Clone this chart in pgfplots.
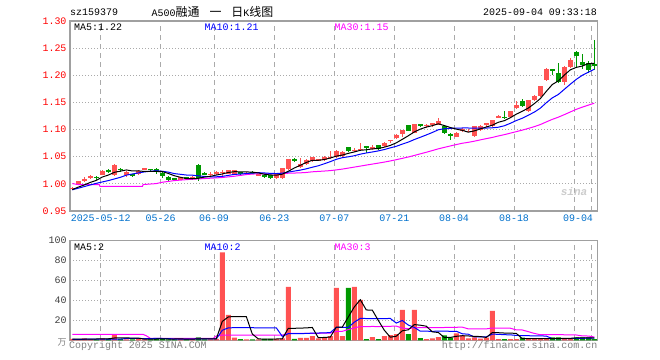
\documentclass[border=0pt]{standalone}
\usepackage{pgfplots}
\pgfplotsset{compat=1.18}
\usepackage{pgfplotstable}
\usepackage{fontspec}
\setmainfont{Liberation Mono}
\newfontfamily\cjk{Noto Sans CJK SC}
\definecolor{kred}{RGB}{255,82,82}
\definecolor{kgreen}{RGB}{0,153,0}
\definecolor{framegray}{RGB}{160,160,160}
\definecolor{gridgray}{RGB}{170,170,170}
\definecolor{datecol}{RGB}{0,112,204}
\definecolor{mathirty}{RGB}{255,0,255}
\definecolor{maten}{RGB}{0,0,255}
\definecolor{txtgray}{RGB}{128,128,128}

\pgfplotstableread{
i o h l c v
0 0.990 0.994 0.989 0.993 1.5
1 0.998 1.006 0.997 1.005 1
2 1.006 1.012 1.003 1.009 2
3 1.011 1.016 1.009 1.014 1
5 1.017 1.025 1.016 1.024 2
7 1.017 1.037 1.015 1.034 6
9 1.016 1.024 1.013 1.022 1
11 1.018 1.025 1.017 1.024 1.5
12 1.027 1.030 1.025 1.028 1
18 1.008 1.013 1.007 1.012 1.5
20 1.009 1.014 1.008 1.012 1
23 1.016 1.021 1.015 1.019 1
24 1.019 1.024 1.016 1.021 1.5
25 1.020 1.026 1.014 1.022 88
26 1.019 1.026 1.018 1.025 25.5
27 1.019 1.026 1.018 1.025 2.7
29 1.019 1.022 1.018 1.020 1
31 1.016 1.019 1.015 1.018 1
34 1.011 1.019 1.009 1.018 1.5
35 1.011 1.030 1.009 1.029 2
36 1.028 1.046 1.026 1.045 53.5
38 1.031 1.048 1.029 1.036 2.5
39 1.036 1.046 1.034 1.044 2.5
40 1.042 1.050 1.040 1.049 4.3
41 1.043 1.046 1.042 1.045 2
42 1.044 1.051 1.043 1.050 3
43 1.048 1.060 1.045 1.050 4.3
44 1.049 1.062 1.047 1.061 52.5
45 1.051 1.061 1.048 1.059 4.3
47 1.061 1.066 1.059 1.063 53.3
48 1.063 1.076 1.060 1.065 40.3
50 1.065 1.072 1.063 1.067 3.3
52 1.069 1.077 1.068 1.075 4.3
53 1.079 1.081 1.075 1.081 5.3
54 1.085 1.091 1.083 1.090 6.3
55 1.092 1.100 1.087 1.099 30.3
57 1.094 1.111 1.093 1.110 30.3
59 1.106 1.110 1.103 1.109 1.3
60 1.110 1.112 1.105 1.112 2
61 1.109 1.121 1.108 1.115 3.3
64 1.087 1.095 1.086 1.094 7
65 1.097 1.102 1.096 1.101 5
66 1.096 1.101 1.095 1.098 2
67 1.089 1.107 1.087 1.106 3
68 1.099 1.109 1.098 1.107 1.7
69 1.110 1.112 1.104 1.112 2.7
70 1.106 1.118 1.105 1.117 29.3
71 1.122 1.126 1.121 1.125 1.3
73 1.123 1.135 1.121 1.134 1.3
74 1.140 1.152 1.137 1.145 1.3
76 1.134 1.155 1.132 1.154 1.3
77 1.154 1.164 1.152 1.162 1.3
78 1.161 1.181 1.160 1.180 1.3
79 1.192 1.213 1.190 1.212 1.3
82 1.188 1.217 1.183 1.216 1.3
83 1.216 1.231 1.213 1.228 1.3
}\upK

\pgfplotstableread{
i o h l c v
4 1.013 1.015 1.008 1.011 1
6 1.026 1.027 1.020 1.023 1.5
8 1.028 1.029 1.022 1.025 1.5
10 1.018 1.019 1.012 1.015 1
13 1.027 1.028 1.024 1.026 1
14 1.028 1.030 1.019 1.021 2
15 1.020 1.021 1.011 1.014 1.5
16 1.013 1.014 1.006 1.007 1
17 1.010 1.011 1.005 1.007 1
19 1.012 1.013 1.008 1.009 1
21 1.035 1.036 1.005 1.011 3
22 1.019 1.021 1.016 1.018 1
28 1.021 1.022 1.017 1.018 1.3
30 1.021 1.023 1.018 1.020 1
32 1.017 1.018 1.010 1.013 1.5
33 1.016 1.017 1.009 1.011 1.5
37 1.046 1.047 1.041 1.043 1.5
46 1.067 1.068 1.058 1.061 52.5
49 1.069 1.070 1.057 1.066 1.3
51 1.071 1.072 1.063 1.065 1.3
56 1.108 1.109 1.097 1.098 6.3
58 1.110 1.111 1.104 1.107 2.3
62 1.107 1.109 1.092 1.094 5
63 1.091 1.094 1.081 1.089 2.7
72 1.124 1.135 1.120 1.121 1.3
75 1.152 1.156 1.141 1.144 2.7
80 1.211 1.212 1.200 1.207 3
81 1.205 1.222 1.185 1.187 3
84 1.243 1.244 1.215 1.235 3
85 1.225 1.240 1.212 1.219 3
86 1.222 1.226 1.205 1.210 3
87 1.221 1.265 1.210 1.217 1.3
}\downK

\pgfplotsset{
  kpanel/.style={
    anchor=south west, scale only axis,
    width=527.3bp,
    xmin=-0.383, xmax=87.5,
    axis line style={draw=framegray, line width=1.2bp},
    xtick={4.73,14.73,23.62,33.67,43.67,53.67,63.62,73.62,83.62,86.57},
    major tick length=0pt,
    grid=major,
    x grid style={gridgray, line width=0.8bp, dash pattern=on 5bp off 4bp},
    y grid style={gridgray, line width=0.8bp, dash pattern=on 1bp off 2bp},
    tick label style={font=\fontsize{10}{12}\selectfont},
    /pgf/number format/assume math mode=true,
  },
  wick/.style={only marks, mark=text, text mark={}, forget plot,
    error bars/.cd, y dir=both, y explicit, error mark=none,
    error bar style={#1, line width=1bp}},
  body/.style={only marks, mark=text, text mark={}, forget plot,
    error bars/.cd, y dir=both, y explicit, error mark=none,
    error bar style={#1, line width=5bp}},
}

\begin{document}
\begin{tikzpicture}
\useasboundingbox (0,0) rectangle (660bp,360bp);
\tikzset{every node/.style={font=\fontsize{10}{12}\selectfont}}

% ---------- price panel ----------
\begin{axis}[kpanel,
  at={(70bp,149bp)}, height=190bp,
  ymin=0.95, ymax=1.30,
  ytick={0.95,1.00,1.05,1.10,1.15,1.20,1.25,1.30},
  xticklabels={2025-05-12,05-26,06-09,06-23,07-07,07-21,08-04,08-18,\hspace{8bp}09-04,{}},
  xticklabel style={text=datecol},
  yticklabel style={text=red, /pgf/number format/.cd, fixed, fixed zerofill, precision=2},
]
\addplot[wick=kred] table[x=i, y expr={(\thisrow{h}+\thisrow{l})/2}, y error expr={(\thisrow{h}-\thisrow{l})/2}] {\upK};
\addplot[wick=kgreen] table[x=i, y expr={(\thisrow{h}+\thisrow{l})/2}, y error expr={(\thisrow{h}-\thisrow{l})/2}] {\downK};
\addplot[body=kred] table[x=i, y expr={(\thisrow{o}+\thisrow{c})/2}, y error expr={max(abs(\thisrow{c}-\thisrow{o})/2,0.0009)}] {\upK};
\addplot[body=kgreen] table[x=i, y expr={(\thisrow{o}+\thisrow{c})/2}, y error expr={max(abs(\thisrow{c}-\thisrow{o})/2,0.0009)}] {\downK};

% MA30
\addplot[mathirty, line width=1bp, mark=none] coordinates {
(0,1.0005)(1,0.9987)(4.5,0.9987)(4.6,0.9955)(11.7,0.9955)(11.8,0.9987)(14,1.0005)(15,1.003)(17,1.006)(19.3,1.008)(24.9,1.0116)(27,1.014)(29,1.0171)
(30,1.018)(31,1.0185)(32,1.0186)(33,1.0185)(34,1.0187)(35,1.0189)(36,1.0196)(37,1.0199)(38,1.0203)(39,1.021)(40,1.0222)(41,1.0229)(42,1.0236)(43,1.0244)(44,1.0257)(45,1.0272)(46,1.029)(47,1.0309)(48,1.0327)(49,1.0346)(50,1.0364)(51,1.0382)(52,1.0401)(53,1.0422)(54,1.0445)(55,1.047)(56,1.0495)(57,1.0523)(58,1.0553)(59,1.0582)(60,1.0613)(61,1.0645)(62,1.0672)(63,1.0698)(64,1.0724)(65,1.0748)(66,1.0765)(67,1.0786)(68,1.081)(69,1.0833)(70,1.0855)(71,1.0882)(72,1.0906)(73,1.0934)(74,1.0962)(75,1.099)(76,1.1021)(77,1.1054)(78,1.1092)(79,1.1141)(80,1.1188)(81,1.1228)(82,1.1275)(83,1.1324)(84,1.1373)(85,1.1413)(86,1.145)(87,1.1486)};
% MA10
\addplot[maten, line width=1bp, mark=none] coordinates {
(0,0.989)(1,0.992)(2,0.995)(3,0.998)(4,1.001)(5,1.0035)(6,1.006)(7,1.009)(8,1.012)(9,1.016)(10,1.0182)(11,1.0201)(12,1.022)(13,1.0232)(14,1.0242)(15,1.0232)(16,1.0216)(17,1.0189)(18,1.0176)(19,1.0163)(20,1.016)(21,1.0147)(22,1.0137)(23,1.013)(24,1.013)(25,1.0138)(26,1.0156)(27,1.0174)(28,1.018)(29,1.0191)(30,1.0199)(31,1.0206)(32,1.0201)(33,1.0193)(34,1.019)(35,1.0197)(36,1.0217)(37,1.0235)(38,1.0253)(39,1.0277)(40,1.0306)(41,1.0333)(42,1.037)(43,1.0409)(44,1.0452)(45,1.0482)(46,1.0498)(47,1.0518)(48,1.0547)(49,1.0569)(50,1.0587)(51,1.0607)(52,1.0632)(53,1.0663)(54,1.0692)(55,1.0732)(56,1.0769)(57,1.0816)(58,1.0858)(59,1.0901)(60,1.0946)(61,1.0996)(62,1.1015)(63,1.1023)(64,1.1027)(65,1.1029)(66,1.1029)(67,1.1025)(68,1.1025)(69,1.1028)(70,1.1033)(71,1.1043)(72,1.107)(73,1.1115)(74,1.1166)(75,1.1209)(76,1.1265)(77,1.1321)(78,1.1394)(79,1.1494)(80,1.1584)(81,1.1646)(82,1.1741)(83,1.1835)(84,1.1925)(85,1.2)(86,1.2056)(87,1.2111)};
% MA5
\addplot[black, line width=1bp, mark=none] coordinates {
(0,0.9895)(1,0.994)(2,0.998)(3,1.0027)(4,1.0064)(5,1.0126)(6,1.0162)(7,1.0212)(8,1.0234)(9,1.0256)(10,1.0238)(11,1.024)(12,1.0228)(13,1.023)(14,1.0228)(15,1.0226)(16,1.0192)(17,1.015)(18,1.0122)(19,1.0098)(20,1.0094)(21,1.0102)(22,1.0124)(23,1.0138)(24,1.0162)(25,1.0182)(26,1.021)(27,1.0224)(28,1.0222)(29,1.022)(30,1.0216)(31,1.0202)(32,1.0178)(33,1.0164)(34,1.016)(35,1.0178)(36,1.0232)(37,1.0292)(38,1.0342)(39,1.0394)(40,1.0434)(41,1.0434)(42,1.0448)(43,1.0476)(44,1.051)(45,1.053)(46,1.0562)(47,1.0588)(48,1.0618)(49,1.0628)(50,1.0644)(51,1.0652)(52,1.0676)(53,1.0708)(54,1.0756)(55,1.082)(56,1.0886)(57,1.0956)(58,1.1008)(59,1.1046)(60,1.1072)(61,1.1106)(62,1.1074)(63,1.1038)(64,1.1008)(65,1.0986)(66,1.0952)(67,1.0976)(68,1.1012)(69,1.1048)(70,1.108)(71,1.1134)(72,1.1164)(73,1.1218)(74,1.1284)(75,1.1338)(76,1.1396)(77,1.1478)(78,1.157)(79,1.1704)(80,1.183)(81,1.1896)(82,1.2004)(83,1.21)(84,1.2146)(85,1.217)(86,1.2216)(87,1.2218)};
\end{axis}

% ---------- volume panel ----------
\begin{axis}[kpanel,
  at={(70bp,19.7bp)}, height=100bp,
  ymin=0, ymax=100,
  ytick={20,40,60,80,100},
  xticklabels={},
  yticklabel style={text=black!75},
]
\addplot[ybar, bar width=5bp, bar shift=0pt, fill=kred, draw=none, forget plot] table[x=i, y=v] {\upK};
\addplot[ybar, bar width=5bp, bar shift=0pt, fill=kgreen, draw=none, forget plot] table[x=i, y=v] {\downK};
% MA30
\addplot[mathirty, line width=1bp, mark=none] coordinates {
(0,6)(11.8,6)(12.4,4.3)(13,2)(23.5,2)(24,4.3)(25,5.3)(29,5.23)(30,5.22)(35,5.23)(36,6.97)(37,6.82)(38,6.85)(39,6.9)(40,7.01)(41,7.03)(42,7.09)(43,7.2)(44,8.89)(45,8.98)(46,10.7)(47,12.44)(48,13.73)(49,13.74)(50,13.82)(51,13.76)(52,13.87)(53,14.02)(54,14.18)(55,12.25)(56,11.61)(57,12.53)(58,12.57)(59,12.58)(60,12.61)(61,12.69)(62,12.8)(63,12.84)(64,13.03)(65,13.13)(66,11.41)(67,11.46)(68,11.43)(69,11.44)(70,12.27)(71,12.25)(72,12.19)(73,12.09)(74,10.39)(75,10.33)(76,8.63)(77,6.89)(78,5.59)(79,5.59)(80,5.58)(81,5.64)(82,5.54)(83,5.41)(84,5.3)(85,4.39)(86,4.28)(87,3.31)};
% MA10
\addplot[maten, line width=1bp, mark=none] coordinates {
(0,1)(8,1.2)(9,1.85)(10,1.8)(11,1.85)(12,1.75)(13,1.75)(14,1.85)(15,1.8)(16,1.75)(17,1.25)(18,1.25)(19,1.25)(20,1.25)(21,1.4)(22,1.4)(23,1.4)(24,1.35)(25,10)(26,12.45)(27,12.62)(28,12.6)(29,12.6)(30,12.6)(31,12.4)(32,12.45)(33,12.5)(34,12.5)(35,3.9)(36,6.7)(37,6.58)(38,6.7)(39,6.85)(40,7.18)(41,7.28)(42,7.43)(43,7.71)(44,12.81)(45,13.04)(46,12.94)(47,18.12)(48,21.9)(49,21.78)(50,21.68)(51,21.61)(52,21.74)(53,21.84)(54,17.22)(55,19.82)(56,15.2)(57,12.9)(58,9.1)(59,9.1)(60,8.97)(61,9.17)(62,9.24)(63,8.98)(64,9.05)(65,6.52)(66,6.09)(67,3.36)(68,3.3)(69,3.44)(70,6.17)(71,5.97)(72,5.6)(73,5.46)(74,4.89)(75,4.66)(76,4.59)(77,4.42)(78,4.38)(79,4.24)(80,1.61)(81,1.78)(82,1.78)(83,1.78)(84,1.95)(85,1.98)(86,2.15)(87,2.15)};
% MA5
\addplot[black, line width=1bp, mark=none] coordinates {
(0,1.3)(4,1.3)(5,1.4)(6,1.5)(7,2.3)(8,2.4)(9,2.4)(10,2.2)(11,2.2)(12,1.2)(13,1.1)(14,1.3)(15,1.4)(16,1.3)(17,1.3)(18,1.4)(19,1.2)(20,1.1)(21,1.5)(22,1.5)(23,1.4)(24,1.5)(25,18.9)(26,23.4)(27,23.74)(28,23.8)(29,23.7)(30,6.3)(31,1.4)(32,1.16)(33,1.2)(34,1.3)(35,1.5)(36,12)(37,12)(38,12.2)(39,12.4)(40,12.86)(41,2.56)(42,2.86)(43,3.22)(44,13.22)(45,13.22)(46,23.32)(47,33.38)(48,40.58)(49,30.34)(50,30.14)(51,19.9)(52,10.1)(53,3.1)(54,4.1)(55,9.5)(56,10.5)(57,15.7)(58,15.1)(59,14.1)(60,8.44)(61,7.84)(62,2.78)(63,2.86)(64,4.0)(65,4.6)(66,4.34)(67,3.94)(68,3.74)(69,2.88)(70,7.74)(71,7.6)(72,7.26)(73,7.18)(74,6.9)(75,1.58)(76,1.58)(77,1.58)(78,1.58)(79,1.58)(80,1.64)(81,1.98)(82,1.98)(83,1.98)(84,2.32)(85,2.32)(86,2.32)(87,2.32)};
\end{axis}

% ---------- texts ----------
\node[anchor=west, inner sep=0pt] at (70bp,348bp) {sz159379};
\node[anchor=west, inner sep=0pt] at (151.5bp,348bp) {A500{\cjk\fontsize{12}{12}\selectfont 融通}\hspace{10bp}{\cjk\fontsize{12}{12}\selectfont 一}\hspace{10bp}{\cjk\fontsize{12}{12}\selectfont 日}K{\cjk\fontsize{12}{12}\selectfont 线图}};
\node[anchor=east, inner sep=0pt] at (597bp,348bp) {2025-09-04 09:33:18};

\node[anchor=west, inner sep=0pt] at (74bp,333bp) {MA5:1.22};
\node[anchor=west, inner sep=0pt, text=maten] at (204.5bp,333bp) {MA10:1.21};
\node[anchor=west, inner sep=0pt, text=mathirty] at (334.5bp,333bp) {MA30:1.15};

\node[anchor=west, inner sep=0pt] at (74bp,113bp) {MA5:2};
\node[anchor=west, inner sep=0pt, text=maten] at (204.5bp,113bp) {MA10:2};
\node[anchor=west, inner sep=0pt, text=mathirty] at (334.5bp,113bp) {MA30:3};

\node[anchor=west, inner sep=0pt, text=txtgray] at (69bp,14bp) {Copyright 2025 SINA.COM};
\node[anchor=east, inner sep=0pt, text=txtgray] at (597.5bp,14bp) {http://finance.sina.com.cn};
\node[anchor=center, inner sep=0pt, text=txtgray] at (62bp,18bp) {{\cjk\fontsize{9}{9}\selectfont 万}};
\node[anchor=center, inner sep=0pt, text=black!20, font=\fontsize{11}{11}\selectfont\bfseries\itshape] at (574bp,168bp) {sina};
\end{tikzpicture}
\end{document}
